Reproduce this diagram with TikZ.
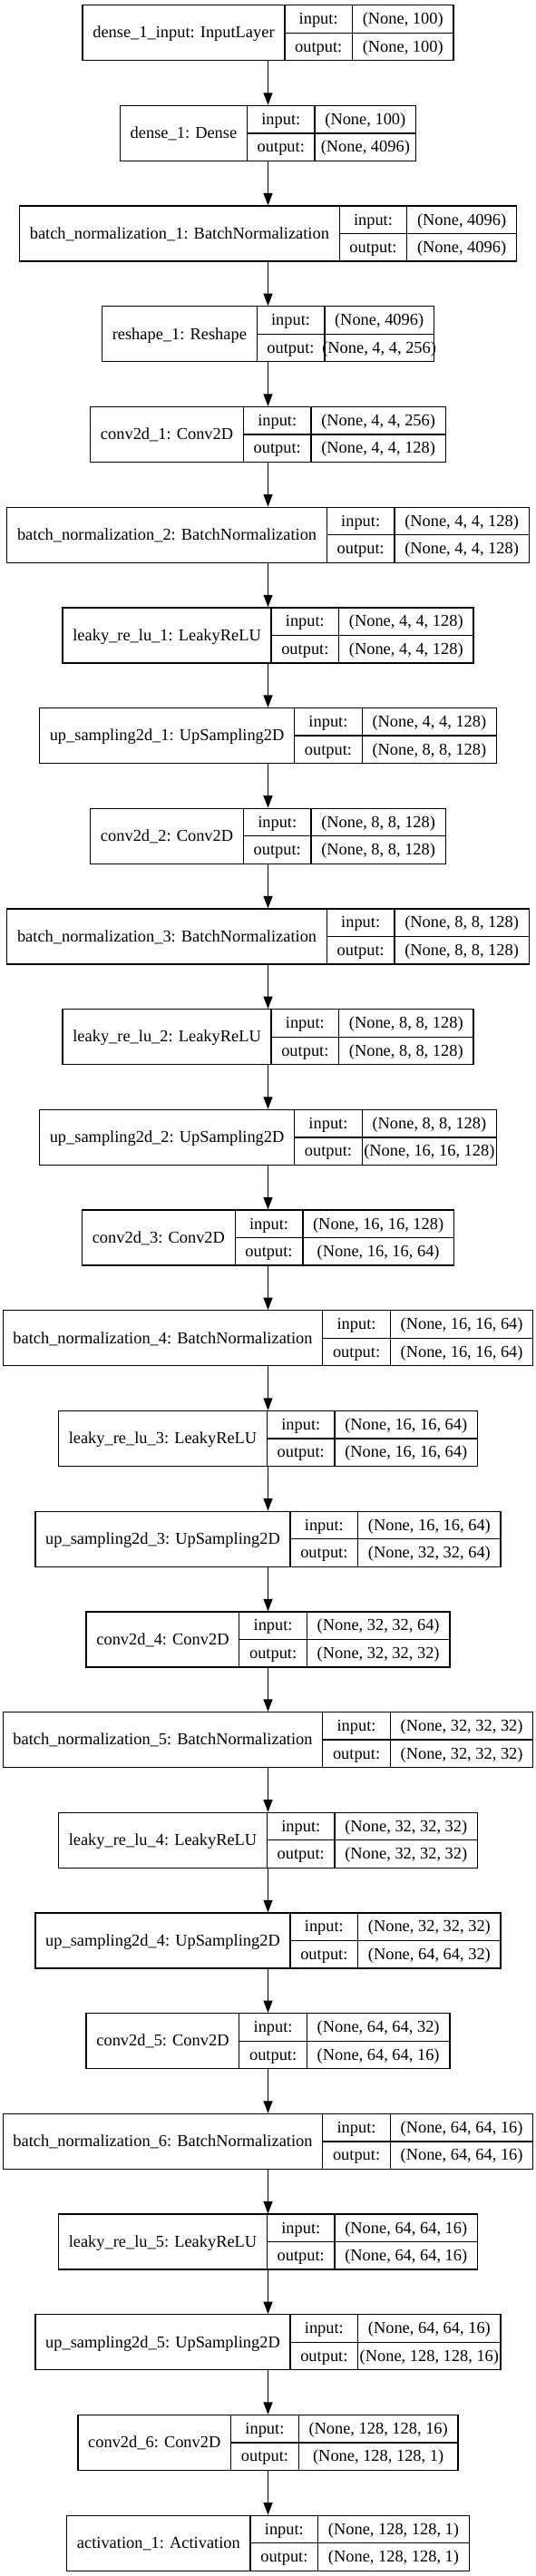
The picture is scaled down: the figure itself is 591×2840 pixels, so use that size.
\documentclass[tikz,border=0pt]{standalone}
\usepackage{fontspec}
\setmainfont{Liberation Serif}
\usetikzlibrary{arrows.meta}
\newlength\lyrwl \newlength\lyrwio \newlength\lyrws \newlength\lyrwt
\newsavebox\lyrbox
\newcommand\lyrfont{\fontsize{18.4}{21}\selectfont}
\newcommand\lyrmeasure[2]{%
  \pgfinterruptpicture\normalfont\lyrfont\global\setbox\lyrbox=\hbox{#2}\endpgfinterruptpicture
  #1=\wd\lyrbox}
\tikzset{
  lbox/.style={draw=black, line width=1.3pt, rectangle, inner sep=0pt, minimum height=61pt},
  lline/.style={draw=black, line width=1.3pt},
  ltext/.style={anchor=base, inner sep=0pt, font=\lyrfont, text=black},
  larr/.style={draw=black, line width=1.3pt, -{Triangle[length=13.5pt, width=10pt]}},
}
\newcommand\layer[5]{%
  \lyrmeasure\lyrwl{#3}\addtolength\lyrwl{22.5pt}%
  \lyrmeasure\lyrwio{output:}\addtolength\lyrwio{22.5pt}%
  \lyrmeasure\lyrws{#4}\lyrmeasure\lyrwt{#5}%
  \ifdim\lyrwt>\lyrws \lyrws=\lyrwt\fi
  \addtolength\lyrws{22.5pt}%
  \pgfmathsetmacro\tw{\lyrwl+\lyrwio+\lyrws}%
  \pgfmathsetmacro\cy{-(5.7+110.7*#2+30.5)}%
  \pgfmathsetmacro\xa{295.5-\tw/2}%
  \pgfmathsetmacro\xb{\xa+\lyrwl}%
  \pgfmathsetmacro\xc{\xb+\lyrwio}%
  \pgfmathsetmacro\xd{295.5+\tw/2}%
  \pgfmathsetmacro\ya{\cy+30.5}%
  \pgfmathsetmacro\yb{\cy-30.5}%
  \node[lbox, minimum width=\tw pt] (#1) at (295.5,\cy) {};
  \draw[lline] (\xb,\ya) -- (\xb,\yb);
  \draw[lline] (\xc,\ya) -- (\xc,\yb);
  \draw[lline] (\xb,\cy) -- (\xd,\cy);
  \node[ltext] (#1-l) at ({(\xa+\xb)/2},{\cy-5.7}) {#3};
  \node[ltext] (#1-i) at ({(\xb+\xc)/2},{\cy+15.25-5.7}) {input:};
  \node[ltext] (#1-o) at ({(\xb+\xc)/2},{\cy-15.25-5.7}) {output:};
  \node[ltext] (#1-si) at ({(\xc+\xd)/2},{\cy+15.25-5.7}) {#4};
  \node[ltext] (#1-so) at ({(\xc+\xd)/2},{\cy-15.25-5.7}) {#5};
}
\begin{document}
\begin{tikzpicture}[x=1pt,y=1pt]
\useasboundingbox[fill=white] (0,0) rectangle (591,-2840);
\layer{L0}{0}{dense\_1\_input: InputLayer}{(None, 100)}{(None, 100)}
\layer{L1}{1}{dense\_1: Dense}{(None, 100)}{(None, 4096)}
\layer{L2}{2}{batch\_normalization\_1: BatchNormalization}{(None, 4096)}{(None, 4096)}
\layer{L3}{3}{reshape\_1: Reshape}{(None, 4096)}{(None, 4, 4, 256)}
\layer{L4}{4}{conv2d\_1: Conv2D}{(None, 4, 4, 256)}{(None, 4, 4, 128)}
\layer{L5}{5}{batch\_normalization\_2: BatchNormalization}{(None, 4, 4, 128)}{(None, 4, 4, 128)}
\layer{L6}{6}{leaky\_re\_lu\_1: LeakyReLU}{(None, 4, 4, 128)}{(None, 4, 4, 128)}
\layer{L7}{7}{up\_sampling2d\_1: UpSampling2D}{(None, 4, 4, 128)}{(None, 8, 8, 128)}
\layer{L8}{8}{conv2d\_2: Conv2D}{(None, 8, 8, 128)}{(None, 8, 8, 128)}
\layer{L9}{9}{batch\_normalization\_3: BatchNormalization}{(None, 8, 8, 128)}{(None, 8, 8, 128)}
\layer{L10}{10}{leaky\_re\_lu\_2: LeakyReLU}{(None, 8, 8, 128)}{(None, 8, 8, 128)}
\layer{L11}{11}{up\_sampling2d\_2: UpSampling2D}{(None, 8, 8, 128)}{(None, 16, 16, 128)}
\layer{L12}{12}{conv2d\_3: Conv2D}{(None, 16, 16, 128)}{(None, 16, 16, 64)}
\layer{L13}{13}{batch\_normalization\_4: BatchNormalization}{(None, 16, 16, 64)}{(None, 16, 16, 64)}
\layer{L14}{14}{leaky\_re\_lu\_3: LeakyReLU}{(None, 16, 16, 64)}{(None, 16, 16, 64)}
\layer{L15}{15}{up\_sampling2d\_3: UpSampling2D}{(None, 16, 16, 64)}{(None, 32, 32, 64)}
\layer{L16}{16}{conv2d\_4: Conv2D}{(None, 32, 32, 64)}{(None, 32, 32, 32)}
\layer{L17}{17}{batch\_normalization\_5: BatchNormalization}{(None, 32, 32, 32)}{(None, 32, 32, 32)}
\layer{L18}{18}{leaky\_re\_lu\_4: LeakyReLU}{(None, 32, 32, 32)}{(None, 32, 32, 32)}
\layer{L19}{19}{up\_sampling2d\_4: UpSampling2D}{(None, 32, 32, 32)}{(None, 64, 64, 32)}
\layer{L20}{20}{conv2d\_5: Conv2D}{(None, 64, 64, 32)}{(None, 64, 64, 16)}
\layer{L21}{21}{batch\_normalization\_6: BatchNormalization}{(None, 64, 64, 16)}{(None, 64, 64, 16)}
\layer{L22}{22}{leaky\_re\_lu\_5: LeakyReLU}{(None, 64, 64, 16)}{(None, 64, 64, 16)}
\layer{L23}{23}{up\_sampling2d\_5: UpSampling2D}{(None, 64, 64, 16)}{(None, 128, 128, 16)}
\layer{L24}{24}{conv2d\_6: Conv2D}{(None, 128, 128, 16)}{(None, 128, 128, 1)}
\layer{L25}{25}{activation\_1: Activation}{(None, 128, 128, 1)}{(None, 128, 128, 1)}
\foreach \i [evaluate=\i as \j using int(\i+1)] in {0,...,24} {
  \draw[larr] (L\i.south) -- (L\j.north);
}
\end{tikzpicture}
\end{document}
